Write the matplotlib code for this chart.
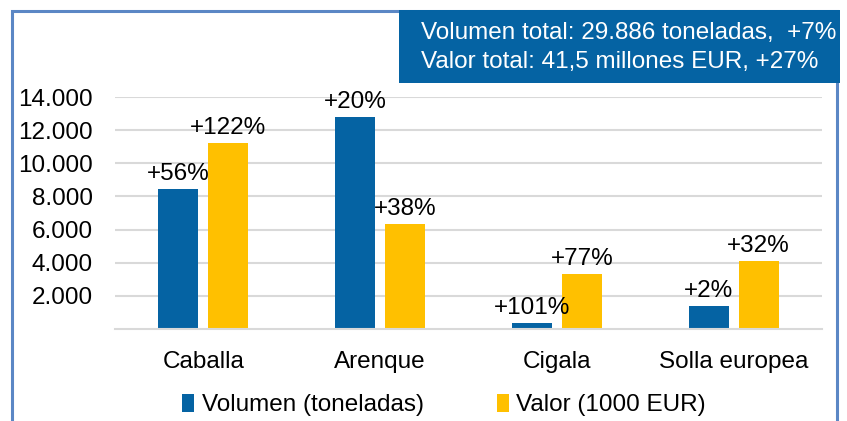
import matplotlib.pyplot as plt
from matplotlib.patches import Rectangle
import numpy as np

plt.rcParams['font.family'] = ['Liberation Sans', 'DejaVu Sans']

# data
especies = ["Caballa", "Arenque", "Cigala", "Solla europea"]
volumen = [8450, 12800, 370, 1400]      # toneladas
valor = [11200, 6350, 3300, 4100]       # 1000 EUR
var_volumen = ["+56%", "+20%", "+101%", "+2%"]
var_valor = ["+122%", "+38%", "+77%", "+32%"]
yticks = [2000, 4000, 6000, 8000, 10000, 12000, 14000]
ytick_labels = ["2.000", "4.000", "6.000", "8.000", "10.000", "12.000", "14.000"]
resumen = ["Volumen total: 29.886 toneladas,  +7%",
           "Valor total: 41,5 millones EUR, +27%"]

AZUL = "#0563A3"
AMARILLO = "#FFC000"
W, H = 847, 421
FS = 17.5

fig = plt.figure(figsize=(W / 100, H / 100), dpi=100)
ax = fig.add_axes([115 / W, (H - 329) / H, (822 - 115) / W, (329 - 97) / H])

x = np.arange(len(especies))
bw = 0.226
off = 0.141
b1 = ax.bar(x - off, volumen, bw, color=AZUL, label="Volumen (toneladas)")
b2 = ax.bar(x + off, valor, bw, color=AMARILLO, label="Valor (1000 EUR)")

for bars, labels in ((b1, var_volumen), (b2, var_valor)):
    for b, txt in zip(bars, labels):
        ax.annotate(txt, (b.get_x() + b.get_width() / 2, b.get_height()),
                    xytext=(0, 3), textcoords="offset points",
                    ha="center", va="bottom", fontsize=FS)

ax.set_xlim(-0.5, 3.5)
ax.set_ylim(0, 14000)
ax.set_yticks(yticks)
ax.set_yticklabels(ytick_labels)
ax.set_xticks(x)
ax.set_xticklabels(especies)
ax.tick_params(axis="y", length=0, pad=16, labelsize=FS)
ax.tick_params(axis="x", length=0, pad=16, labelsize=FS)
ax.grid(axis="y", color="#D9D9D9", linewidth=1.5)
ax.set_axisbelow(True)
for s in ("top", "right", "left"):
    ax.spines[s].set_visible(False)
ax.spines["bottom"].set_color("#D9D9D9")
ax.spines["bottom"].set_linewidth(1.5)

# outer frame and summary box
fig.patches.append(Rectangle((12 / W, -0.05), (837 - 12) / W, 1.05 - 11 / H,
                             transform=fig.transFigure, fill=False,
                             edgecolor="#5B87C5", linewidth=2.2))
fig.patches.append(Rectangle((399 / W, 1 - 83 / H), (840 - 399) / W, 73 / H,
                             transform=fig.transFigure, facecolor=AZUL,
                             edgecolor="none"))
fig.text(421 / W, 1 - 33 / H, resumen[0], color="white", fontsize=FS, va="center")
fig.text(421 / W, 1 - 62 / H, resumen[1], color="white", fontsize=FS, va="center")

fig.legend(loc="center left", bbox_to_anchor=(170 / W, 1 - 405 / H),
           ncol=2, frameon=False, fontsize=FS, borderpad=0,
           handlelength=0.5, handleheight=0.75, handletextpad=0.3,
           columnspacing=3.0)

fig.savefig("out.png", dpi=100)
